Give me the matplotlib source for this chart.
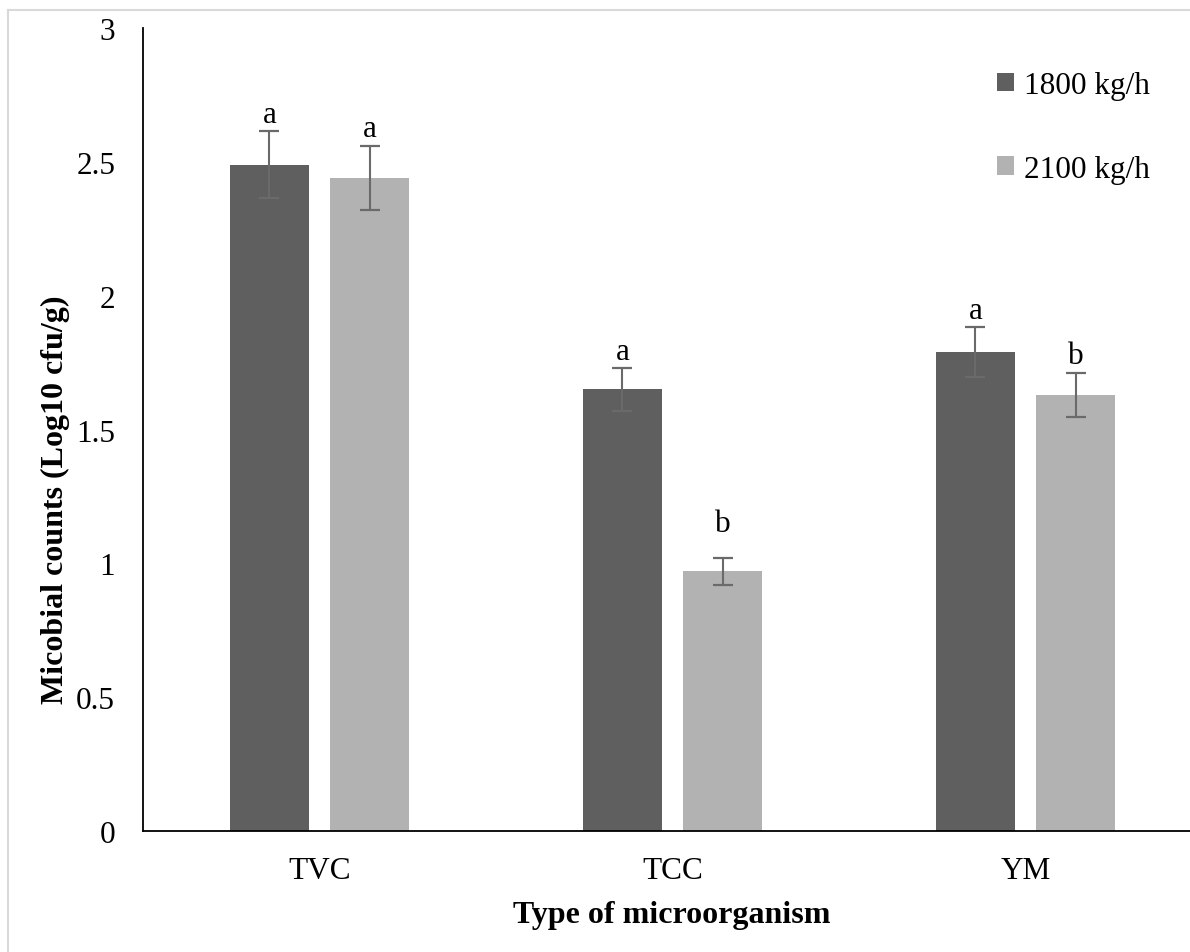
import matplotlib.pyplot as plt
import numpy as np
from matplotlib.lines import Line2D

plt.rcParams['font.family'] = ['Liberation Serif', 'DejaVu Serif']

categories = ["TVC", "TCC", "YM"]
series_names = ["1800 kg/h", "2100 kg/h"]
means_1800 = [2.49, 1.65, 1.79]
means_2100 = [2.44, 0.97, 1.63]
err_1800 = [0.125, 0.08, 0.093]
err_2100 = [0.12, 0.05, 0.082]
letters_1800 = ["a", "a", "a"]
letters_2100 = ["a", "b", "b"]

W, H = 1190, 953
fig = plt.figure(figsize=(W / 100, H / 100), dpi=100)
ax = fig.add_axes([143 / W, 1 - 832 / H, (1202 - 143) / W, (832 - 29) / H])

x = np.arange(len(categories))
width = 0.224
off = 0.142
colors = ["#5f5f5f", "#b2b2b2"]
fs = 22.5

for means, errs, letters, sign, col, name in [
    (means_1800, err_1800, letters_1800, -1, colors[0], series_names[0]),
    (means_2100, err_2100, letters_2100, 1, colors[1], series_names[1]),
]:
    xs = x + sign * off
    ax.bar(xs, means, width, color=col, label=name, zorder=2)
    ax.errorbar(xs, means, yerr=errs, fmt='none', ecolor='#6a6a6a',
                elinewidth=1.5, capsize=7.5, capthick=1.6, zorder=3)
    for xi, m, e, t in zip(xs, means, errs, letters):
        gap = 0.035
        if t == "b" and m < 1.2:
            gap = 0.1
        ax.text(xi, m + e + gap, t, ha='center', va='baseline', fontsize=fs)

ax.set_xlim(-0.5, 2.5)
ax.set_ylim(0, 3)
ax.set_yticks([0, 0.5, 1, 1.5, 2, 2.5, 3])
ax.set_yticklabels(["0", "0.5", "1", "1.5", "2", "2.5", "3"])
ax.set_xticks(x)
ax.set_xticklabels(categories)
ax.tick_params(axis='both', length=0, labelsize=fs)
ax.tick_params(axis='y', pad=20)
ax.tick_params(axis='x', pad=18)
for s in ["top", "right"]:
    ax.spines[s].set_visible(False)
for s in ["left", "bottom"]:
    ax.spines[s].set_linewidth(1.3)
    ax.spines[s].set_color('black')

fig.text(55 / W, 1 - 500 / H, "Micobial counts (Log10 cfu/g)", rotation=90,
         ha='center', va='center', fontsize=23, fontweight='bold')
fig.text(672 / W, 1 - 915 / H, "Type of microorganism",
         ha='center', va='center', fontsize=23, fontweight='bold')

leg = fig.legend(loc='upper left', bbox_to_anchor=(997 / W, 1 - 72 / H),
                 frameon=False, fontsize=fs, handlelength=0.55, handleheight=0.55,
                 handletextpad=0.3, labelspacing=1.75, borderpad=0, borderaxespad=0)

# light outer frame
fig.add_artist(Line2D([8 / W, 8 / W], [0, 1 - 11 / H], color='#d9d9d9', lw=1.5,
                      transform=fig.transFigure))
fig.add_artist(Line2D([8 / W, 1], [1 - 11 / H, 1 - 11 / H], color='#d9d9d9', lw=1.5,
                      transform=fig.transFigure))

fig.savefig("out.png", dpi=100)
